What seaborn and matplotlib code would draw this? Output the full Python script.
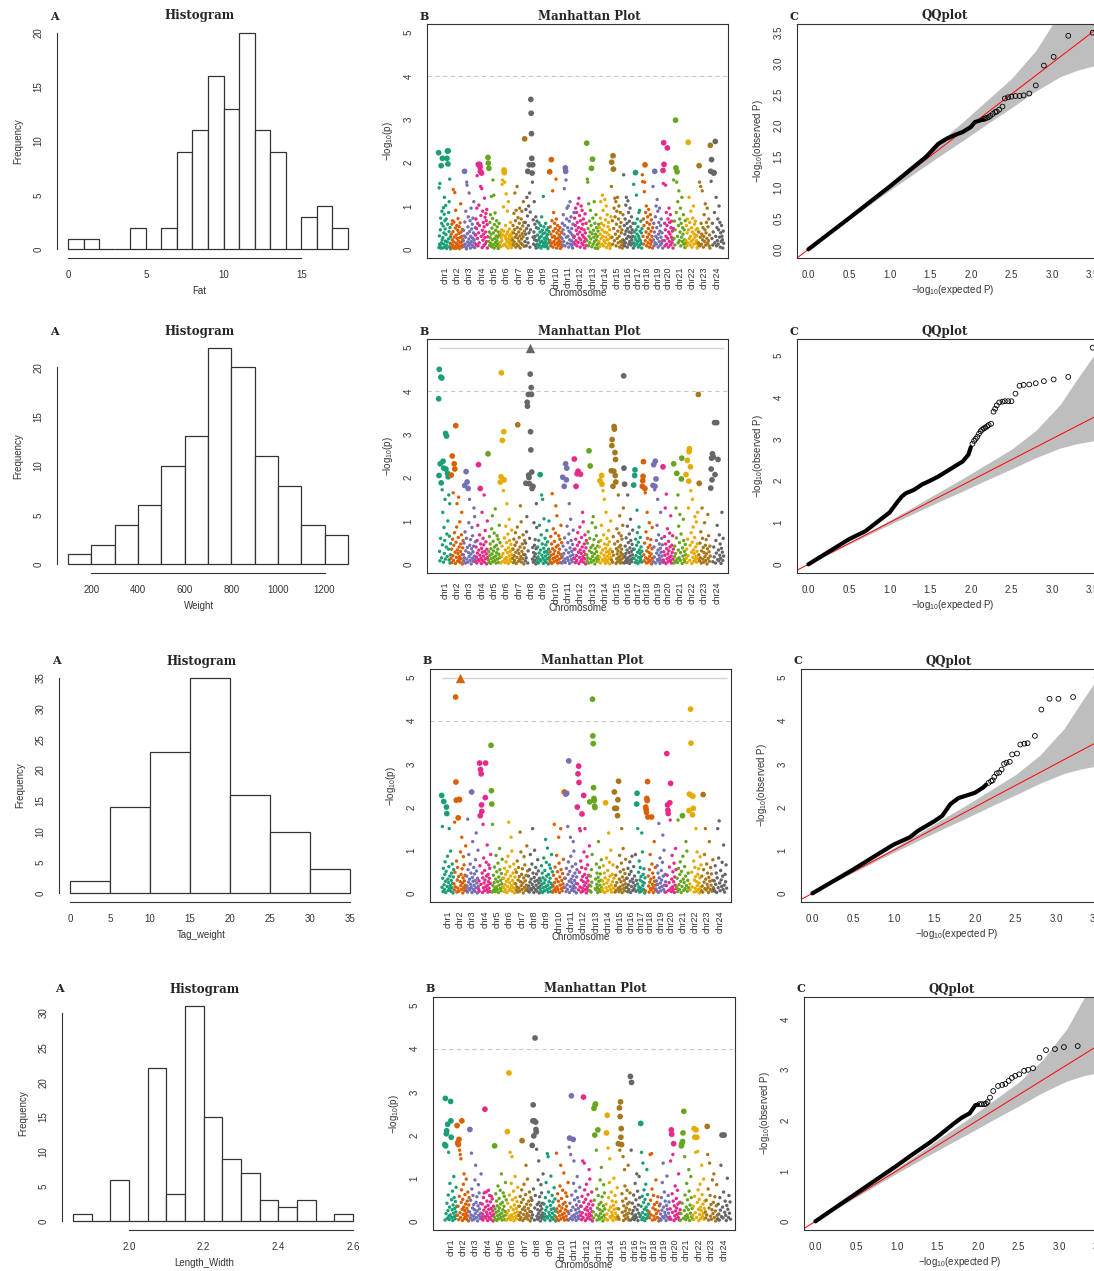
import numpy as np
import pandas as pd
import seaborn as sns
import matplotlib.pyplot as plt

sns.set_style("white")
plt.rcParams['font.family'] = ['Liberation Sans', 'DejaVu Sans']
plt.rcParams['mathtext.default'] = 'regular'

W, H = 1094, 1271
INK = '#333333'
SERIF = ['DejaVu Serif']

# ---------------- histogram data (bin edges + bar heights) ----------------
fat_edges = list(range(0, 19))
fat_counts = [1, 1, 0, 0, 2, 0, 2, 9, 11, 16, 13, 20, 11, 9, 0, 3, 4, 2]
weight_edges = list(range(100, 1301, 100))
weight_counts = [1, 2, 4, 6, 10, 13, 22, 20, 11, 8, 4, 3]
tag_edges = list(range(0, 36, 5))
tag_counts = [2, 14, 23, 35, 16, 10, 4]
lw_edges = [1.85, 1.90, 1.95, 2.00, 2.05, 2.10, 2.15, 2.20, 2.25, 2.30, 2.35, 2.40, 2.45, 2.50, 2.55, 2.60]
lw_counts = [1, 0, 6, 0, 22, 4, 31, 15, 9, 7, 3, 2, 3, 0, 1]

# ---------------- manhattan data: -log10(p) x100, one string per chromosome ----------------
chrom_names = ['chr%d' % i for i in range(1, 25)]
chrom_len = [37] * 15 + [30, 26, 32, 30, 32, 37, 37, 37, 40]

fat_logp = [
    "223 4 142 31 12 152 8 45 72 3 193 15 60 88 22 210 3 27 54 96 12 38 81 120 5 66 47 19 101 34 70 9 2 210 17 227 58 197 227 24 85 41 110 6 162 50 14 29 1",
    "12 35 4 58 22 66 9 41 138 17 63 28 2 131 6 49 90 14 33 3 55 25 11 44 71 19 8 37 52 2 27 61 15 105 40 7 30 18 5 46 23 10",
    "20 44 7 31 180 63 12 28 88 5 1 155 148 36 17 52 75 9 24 130 41 14 66 3 30 95 18 47 10 58 26 72 6 38 110 22 15 4 34 50",
    "33 70 11 48 95 170 25 60 8 196 38 102 15 55 196 190 180 145 78 30 176 140 4 44 88 21 62 35 9 52 118 27 74 13 40 83 66 18 92 57 3 29",
    "212 199 18 187 40 9 62 27 80 14 35 122 6 49 22 71 160 11 38 125 3 57 25 84 16 44 8 31 66 20 52 12 28 2 40 5 60 33 15 7",
    "15 38 6 27 45 20 150 160 33 9 98 42 183 177 155 12 30 55 24 128 7 36 18 88 41 3 110 25 14 32 47 10 22 62 19 35 4 28 13 40",
    "22 55 10 38 83 17 46 130 28 66 5 90 34 12 145 50 26 73 8 40 19 60 95 31 3 47 14 70 24 88 36 11 54 29 110 62 7 42 255",
    "18 62 35 92 8 48 120 25 77 180 15 55 100 38 195 130 5 86 45 346 314 267 210 176 155 195 28 68 12 40 110 22 58 30 9 75 3 50 20 65",
    "12 33 5 48 22 61 9 27 40 16 55 3 30 75 19 44 8 36 122 14 52 25 6 38 18 60 11 29 45 7 24 34 2 50 15 41 20",
    "179 20 52 8 35 207 14 66 28 135 5 42 85 18 30 60 11 48 24 162 70 3 38 15 55 26 9 44 20 33 12 50 2 28 17 39 6",
    "25 60 10 45 80 18 35 140 55 8 188 180 160 28 70 95 14 50 30 100 5 42 65 22 110 12 38 75 20 48 9 33 3 58 16 27 85",
    "30 72 12 55 95 20 44 85 8 62 35 105 16 50 118 26 78 40 5 66 22 100 48 14 90 33 58 10 70 28 45 18 3 82 38 24 60 9",
    "245 20 162 155 48 8 105 30 65 15 40 90 24 55 187 6 36 208 72 12 44 28 110 18 60 3 35 80 22 50 10 30 2 42 14 58",
    "18 50 6 35 72 110 25 60 12 45 125 30 90 8 55 20 40 115 15 68 28 100 4 38 80 22 52 10 62 33 14 45 2 26 9 75",
    "145 201 28 66 12 216 185 48 95 20 118 75 35 110 8 58 88 25 120 42 15 70 100 30 5 52 85 18 62 38 10 45 3 22 80 14",
    "172 20 55 8 35 70 15 102 42 120 25 60 5 48 112 30 85 12 40 65 18 95 28 52 10 38 75 22 45 14 30 60 3",
    "150 15 40 8 28 60 177 22 45 125 12 35 70 18 52 5 30 85 25 90 10 42 20 65 14 38 3 48",
    "172 156 30 70 12 55 133 155 195 20 85 40 100 8 62 28 75 15 48 92 35 5 58 22 80 12 42 68 18 30 3 50",
    "145 22 60 8 40 180 15 75 30 100 12 50 115 25 88 5 35 62 18 95 42 10 55 28 70 14 38 20 3",
    "182 152 246 196 20 60 8 45 148 30 85 12 55 234 25 70 5 40 95 18 62 35 80 10 50 28 65 15 42 22 3 48",
    "160 25 65 10 45 298 188 85 155 179 30 110 15 55 135 20 70 40 95 8 60 28 120 18 50 35 80 12 45 22 4 66 14",
    "20 55 8 38 70 15 247 45 120 25 62 10 30 88 18 50 5 40 72 22 100 12 35 58 28 65 14 45 20 32 3 48 9",
    "15 40 193 155 8 28 145 60 12 35 135 22 50 5 30 80 18 45 105 10 38 62 25 95 14 52 20 70 8 33 3 240",
    "180 157 207 25 60 10 40 176 177 85 15 249 30 120 8 50 20 70 12 45 100 28 62 5 38 18 55 30 22 3 42 14",
]

weight_logp = [
    "382 205 450 30 8 232 60 432 188 15 430 172 45 120 238 5 222 85 25 55 150 12 302 220 40 296 70 18 210 100 202 35 160 10 65 140 3 22 48",
    "14 206 35 4 250 58 20 165 9 44 232 73 220 28 2 320 51 16 86 140 33 7 25 62 155 11 40 18 98 5 30 47 13 68 120 23 1 38 55",
    "22 8 49 15 182 75 3 31 214 60 12 190 39 5 175 27 96 18 150 44 9 57 24 1 36 85 14 66 29 7 42 130 19 110 11 52",
    "6 40 17 3 55 26 90 11 230 33 8 68 21 175 47 14 2 37 120 28 9 60 19 45 160 5 30 78 13 52 24 1 35 100 16",
    "255 10 29 5 64 21 47 2 36 13 82 24 112 6 53 31 16 72 40 9 128 19 3 44 27 66 12 35 58 4 23 90 15 50",
    "190 3 202 442 18 42 286 7 25 170 306 195 61 12 4 33 88 15 50 140 9 27 70 2 38 19 104 55 11 30 6 46 22 79 14 35",
    "14 35 4 58 20 9 44 73 28 2 51 16 86 322 33 7 25 62 11 40 135 18 98 5 30 47 13 68 23 1 38 55",
    "22 8 49 187 15 75 110 374 365 3 31 392 206 200 186 60 500 439 306 264 408 392 213 175 12 39 180 5 27 96 18 44 9 57 24 1 36 140 85 14",
    "6 40 17 3 55 26 90 11 207 33 8 68 160 21 47 150 14 2 37 105 28 9 60 19 45 5 30 78 13 52 24 1 35 100 16",
    "10 29 5 64 21 47 2 163 36 13 82 24 6 53 31 16 72 135 40 9 112 19 3 44 27 66 12 35 58 4 23 90 15 50",
    "3 18 201 42 7 25 180 61 12 4 232 33 195 222 88 15 50 9 27 70 140 2 38 19 104 55 11 30 6 46 22 79 14 35",
    "243 14 35 4 58 180 20 9 209 44 73 215 28 2 51 16 86 33 208 7 25 62 11 40 120 18 98 5 30 47 13 68 23 1 38 55",
    "22 8 49 15 75 3 262 31 60 227 12 39 5 27 96 18 44 110 9 57 24 1 36 85 14 66 29 7 42 19 11 52",
    "6 40 17 193 3 55 26 90 205 185 11 33 170 8 68 21 150 47 14 2 37 120 28 9 60 19 45 5 30 78 13 52 24 1 35 100 16",
    "216 10 274 288 29 5 180 64 21 215 318 312 47 258 205 242 190 2 36 13 82 24 6 53 31 160 16 72 40 9 112 19 3 44 27 66 12 35 58 4 23 90 15 130",
    "435 222 3 185 18 42 7 25 61 12 4 33 88 160 15 50 9 27 70 2 38 19 104 55 11 30 6 46 22 79 14 35",
    "183 14 35 205 218 4 58 20 9 44 125 73 28 2 51 16 86 33 7 25 62 11 40 18 5 30",
    "180 193 203 237 22 8 49 175 165 15 75 3 31 120 60 12 39 5 27 96 18 44 9 57 24 1 36 85 14",
    "182 6 230 40 17 172 180 238 3 197 55 26 90 11 150 33 8 68 21 47 14 2 37 120 28 9 60 19 45 5",
    "225 10 29 5 64 21 130 47 2 162 36 13 82 24 6 53 31 16 72 40 9 112 19 3 44 27 66 12 35",
    "232 3 18 42 7 25 130 61 210 12 4 160 33 88 15 50 115 9 27 70 197 245 2 38 19 104 55 11 30 6 46 22",
    "207 14 35 4 240 58 20 130 192 260 267 9 44 225 170 73 28 2 51 150 16 86 33 7 25 62 110 11 40 18 98 5 30 47 120 13",
    "392 22 187 8 49 15 75 3 31 130 60 12 39 5 27 96 18 44 9 57 24 1 36 115 14 66 29 7 42 19",
    "176 220 245 195 255 6 248 40 17 327 207 3 55 26 327 90 11 242 33 8 68 21 47 14 2 37 120 28 9 60 19",
]

tag_logp = [
    "227 14 155 35 4 58 213 20 9 44 73 28 2 51 200 185 16 86 33 7 25 62 150 11 40 18 98 5 30 47 13 68 23 1 38 55",
    "22 8 165 49 15 455 258 216 75 3 31 60 12 175 39 5 218 217 500 27 96 18 44 9 130 57 24 1 36 85 14 66 29 7 42 19 110 11",
    "6 40 17 3 172 55 26 90 11 33 8 68 21 47 14 235 2 37 120 28 9 60 19 45 5 30 78 13 140 52 24 1 35 100 16",
    "10 29 5 302 64 180 287 21 277 205 190 47 2 36 160 13 82 24 6 53 31 222 302 16 72 40 9 112 19 3 44 27 66 12 35 58 4 23 90",
    "343 238 207 3 160 18 42 7 25 61 12 4 33 88 15 50 9 27 70 2 38 19 104 55 11 30 6 46 22 79 14 35",
    "14 35 4 58 20 9 44 73 28 2 51 16 86 33 165 7 25 62 11 40 130 18 98 5 30 47 13 68 23 1 38 55",
    "22 8 49 15 75 3 31 60 12 39 5 142 27 96 18 44 9 57 24 1 36 85 14 66 29 7 42 19 110 11 52",
    "6 40 17 3 55 26 90 11 33 8 68 21 150 47 14 2 37 100 28 9 60 19 45 5 30 78 13 52 24 1 35 16",
    "10 29 5 64 21 47 2 36 13 82 24 6 53 31 125 16 72 40 9 105 19 3 44 27 66 12 35 58 4 23 90 15 50",
    "3 18 42 7 160 25 61 12 4 33 88 15 50 9 27 130 70 2 38 19 150 55 11 30 6 46 22 79 14 235 35",
    "14 35 230 4 58 232 20 9 155 44 73 307 28 2 51 16 130 86 33 7 25 62 11 40 120 18 98 5 30 47 13 68 23 1 38 55",
    "200 22 277 8 295 257 49 150 15 145 75 3 31 60 184 12 39 5 27 227 96 18 44 150 9 57 24 1 36 85 14 66 29 7 42 19 110",
    "212 6 40 17 3 55 26 90 450 365 347 245 220 215 202 199 11 33 8 68 21 47 14 2 37 120 28 9 60 19 45 5 30 78 13",
    "10 29 5 64 21 47 2 36 210 13 82 24 6 53 31 140 16 72 40 9 100 19 3 44 27 66 12 35",
    "235 197 3 18 42 7 197 25 61 180 217 12 260 4 33 88 15 50 9 27 70 150 2 38 19 104 55 11 30 6 46 22 79 14 35",
    "14 35 4 58 20 9 44 73 28 2 51 16 86 33 7 25 62 11 40 18 90 5 30",
    "207 232 22 150 8 49 15 75 3 31 60 12 39 5 140 27 96 18 44 9 57 24 1 36",
    "6 200 195 188 220 215 259 177 40 17 3 55 26 90 11 33 8 177 68 21 47 14 2 37 120 28 9 60 19",
    "10 29 5 64 21 47 2 162 36 13 82 24 6 53 31 16 72 135 40 9 100 19 3 44 27",
    "3 18 324 42 205 193 185 7 25 61 210 170 255 12 4 33 88 15 50 9 27 70 2 38 19 104 55 11",
    "14 35 4 170 58 20 9 44 73 28 2 51 16 180 86 33 7 25 62 11 40 120 18 98 5 30 47 13",
    "192 230 22 8 427 348 227 49 15 182 225 197 75 3 31 60 12 39 150 5 27 96 18 44 9 57 24 1 36 85 14 66",
    "6 40 17 3 229 55 26 90 11 150 33 8 68 21 47 14 2 37 120 28 9 60 19 45 5 30 78 13",
    "10 29 5 64 21 47 2 36 150 13 82 168 24 6 53 31 16 72 40 9 112 19 3 44 27 66 12",
]

lw_logp = [
    "178 3 285 175 18 203 210 42 7 225 25 61 160 12 4 33 88 15 278 233 195 50 9 27 70 2 38 19 104 55 11 30 6 46 22 79 14 35",
    "222 14 182 35 178 4 190 58 165 20 155 9 145 44 73 233 28 2 51 16 86 33 110 7 25 62 11 40 18 98 5 30 47 13 68 23 1 38 55",
    "22 213 8 49 15 158 75 3 31 60 12 39 5 27 96 18 130 44 9 57 24 1 36 85 14 66 29 7 42 19 110 11",
    "6 40 17 3 55 26 66 11 260 33 8 68 21 47 14 2 37 72 28 9 60 19 45 5 30 58 13 52 24 1 35 16",
    "10 175 29 5 64 21 47 2 36 13 82 24 6 53 31 16 72 40 9 110 19 3 44 27 66 12 35 58 4 23 90 15 50",
    "3 18 208 42 7 25 344 61 12 160 4 33 88 15 150 50 9 27 70 2 38 19 104 55 11 30 6 46 22 79 14 35",
    "14 35 4 58 20 9 44 73 187 28 2 51 16 86 33 7 25 62 130 11 40 18 98 5 30 47 13 68 23 1 38 55",
    "22 8 49 176 15 233 270 75 198 233 3 31 425 60 230 213 207 167 12 39 5 27 96 18 140 44 9 57 24 1 36 85 14 66 29 7 42 19 110 11",
    "6 40 17 3 55 26 90 11 33 157 8 150 68 21 47 14 2 37 105 28 9 60 19 45 5 30 78 13 52 24 1",
    "10 158 29 5 64 21 47 2 36 13 82 24 130 6 53 31 16 72 40 9 112 19 3 44 27 66 12 35 58 4 23 90",
    "3 18 172 193 42 7 155 25 291 61 12 4 33 190 88 140 15 50 9 27 70 2 38 19 104 55 11 30 6 46 22 79 14 35",
    "14 35 4 58 20 140 9 288 44 135 73 28 2 51 16 86 33 7 25 62 11 40 120 18 98 5 30 47 13 68 23 1 38",
    "22 8 262 49 200 270 272 15 165 75 3 31 212 60 12 39 5 27 96 18 44 125 9 57 24 1 36 85 14 66 29 7",
    "6 40 205 17 246 3 170 55 26 90 145 11 33 8 68 21 47 14 2 37 100 28 9 60 19 45 5 30 78 13",
    "10 180 29 5 263 165 243 277 195 215 178 64 21 47 150 2 36 13 120 82 24 6 53 31 16 72 40 9 130 19 3 44 27 66",
    "336 3 165 322 18 42 7 25 61 12 4 33 88 15 50 9 110 27 70 2 38 19 104 55 11",
    "14 227 35 160 4 58 20 135 9 44 73 28 2 51 16 86 33 7 120 25 62 11 40 18",
    "22 8 155 49 15 157 75 3 31 60 12 39 5 27 96 18 44 9 57 24 1 36",
    "6 40 17 3 55 26 90 11 135 33 8 68 21 47 14 2 37 105 28 9 60 19 45 5",
    "10 29 140 5 212 202 64 21 155 47 180 2 36 13 82 24 6 53 31 16 72 40 9 110 19 3 44 27",
    "3 18 175 180 42 185 205 7 255 25 150 61 12 4 33 88 15 50 9 27 120 70 2 38 19 104 55 11 30 6",
    "14 35 4 215 58 195 20 160 212 9 195 44 162 73 28 2 51 16 86 33 7 25 130 62 11 40 18 98 5 30 47",
    "22 8 49 15 220 155 75 3 31 135 60 12 39 5 27 96 18 44 110 9 57 24 1 36 85 14",
    "6 40 17 3 55 26 130 11 200 33 8 68 200 21 47 14 2 37 100 28 9 60 19 45 5",
]

# ---------------- QQ data (expected vs observed -log10 P) ----------------
qq_band_exp = [0, 0.5, 1.0, 1.3, 1.6, 1.9, 2.2, 2.5, 2.8, 3.1, 3.3, 3.58]
qq_band_lo = [0, 0.48, 0.95, 1.22, 1.49, 1.75, 2.02, 2.28, 2.55, 2.78, 2.88, 2.98]
qq_band_hi = [0, 0.52, 1.05, 1.38, 1.72, 2.05, 2.40, 2.75, 3.20, 3.82, 4.40, 5.18]

fat_qq_exp = [0, 0.5, 1.0, 1.3, 1.45, 1.6, 1.7, 1.8, 1.9, 2.0, 2.05, 2.15]
fat_qq_obs = [0, 0.5, 1.01, 1.33, 1.49, 1.70, 1.78, 1.84, 1.89, 1.97, 2.05, 2.09]
fat_top_exp = [3.50, 3.20, 3.02, 2.90, 2.80, 2.72, 2.65, 2.60, 2.55, 2.50, 2.46, 2.42, 2.39, 2.35, 2.32, 2.30, 2.27, 2.24, 2.22, 2.20, 2.18, 2.16]
fat_top_obs = [3.49, 3.44, 3.10, 2.96, 2.64, 2.51, 2.48, 2.47, 2.47, 2.46, 2.45, 2.43, 2.30, 2.25, 2.22, 2.21, 2.18, 2.15, 2.13, 2.12, 2.11, 2.10]

weight_qq_exp = [0, 0.5, 0.7, 1.0, 1.1, 1.15, 1.2, 1.3, 1.4, 1.5, 1.6, 1.7, 1.8, 1.9, 1.97, 2.0]
weight_qq_obs = [0, 0.60, 0.79, 1.24, 1.50, 1.62, 1.70, 1.78, 1.91, 2.0, 2.10, 2.22, 2.34, 2.46, 2.62, 2.80]
weight_top_exp = [3.50, 3.20, 3.02, 2.90, 2.80, 2.72, 2.65, 2.60, 2.55, 2.50, 2.46, 2.42, 2.39, 2.35, 2.32, 2.30, 2.28, 2.25, 2.22, 2.20, 2.18, 2.16, 2.14, 2.12, 2.10, 2.08, 2.06, 2.04, 2.02]
weight_top_obs = [5.18, 4.48, 4.42, 4.38, 4.33, 4.30, 4.29, 4.27, 4.08, 3.90, 3.90, 3.90, 3.89, 3.87, 3.80, 3.72, 3.65, 3.36, 3.33, 3.30, 3.27, 3.25, 3.22, 3.18, 3.12, 3.05, 3.00, 2.95, 2.88]

tag_qq_exp = [0, 0.5, 0.8, 1.0, 1.2, 1.3, 1.5, 1.6, 1.7, 1.8, 1.9, 2.0, 2.1, 2.14]
tag_qq_obs = [0, 0.55, 0.90, 1.13, 1.30, 1.45, 1.67, 1.80, 2.07, 2.21, 2.27, 2.33, 2.45, 2.52]
tag_top_exp = [3.50, 3.21, 3.03, 2.92, 2.82, 2.74, 2.65, 2.61, 2.56, 2.52, 2.46, 2.43, 2.39, 2.36, 2.33, 2.30, 2.27, 2.24, 2.22, 2.20, 2.17]
tag_top_obs = [5.00, 4.55, 4.51, 4.51, 4.26, 3.65, 3.48, 3.47, 3.45, 3.24, 3.22, 3.05, 3.03, 3.00, 2.87, 2.80, 2.78, 2.70, 2.62, 2.60, 2.56]

lw_qq_exp = [0, 0.5, 1.0, 1.2, 1.4, 1.5, 1.7, 1.8, 1.9, 1.97, 2.0]
lw_qq_obs = [0, 0.55, 1.10, 1.33, 1.55, 1.67, 1.93, 2.05, 2.14, 2.30, 2.31]
lw_top_exp = [3.50, 3.23, 3.06, 2.95, 2.84, 2.76, 2.68, 2.62, 2.57, 2.51, 2.46, 2.42, 2.38, 2.34, 2.30, 2.25, 2.19, 2.15, 2.12, 2.10, 2.08, 2.05, 2.02]
lw_top_obs = [4.27, 3.47, 3.45, 3.41, 3.39, 3.24, 3.03, 3.00, 2.98, 2.91, 2.88, 2.84, 2.78, 2.72, 2.70, 2.68, 2.58, 2.45, 2.36, 2.33, 2.32, 2.32, 2.32]

chrom_colors = [sns.color_palette('Dark2', 8)[i % 8] for i in range(24)]

fig = plt.figure(figsize=(W / 100, H / 100), dpi=100)


def px_axes(x0, y0, x1, y1):
    return fig.add_axes([x0 / W, 1 - y1 / H, (x1 - x0) / W, (y1 - y0) / H])


def put(x, y, s, **kw):
    fig.text(x / W, 1 - y / H, s, **kw)


def finish_ticks(ax):
    ax.tick_params(direction='out', length=4, width=0.8, colors=INK, labelsize=7)
    ax.tick_params(axis='y', pad=5.5)
    ax.tick_params(axis='x', pad=4.5)
    for lbl in ax.get_yticklabels():
        lbl.set_rotation(90)
        lbl.set_va('center')
    for sp in ax.spines.values():
        sp.set_color(INK)
        sp.set_linewidth(0.8)
    ax.set_xlabel('')
    ax.set_ylabel('')


def header(letter, title, left, top, tx):
    put(left - 3, top - 8, letter, family=SERIF, weight='bold', fontsize=8, ha='center', va='center')
    put(tx, top - 8, title, family=SERIF, weight='bold', fontsize=8.5, ha='center', va='center')


def draw_hist(ax, edges, counts, xticks, xticklabels, yticks):
    edges = [float(e) for e in edges]
    mids = [(a + b) / 2 for a, b in zip(edges[:-1], edges[1:])]
    hdf = pd.DataFrame({'mid': mids, 'count': counts})
    sns.histplot(data=hdf, x='mid', weights='count', bins=edges, ax=ax, color='white',
                 edgecolor=INK, linewidth=0.9, alpha=1)
    span = edges[-1] - edges[0]
    top = max(counts)
    ax.set_xlim(edges[0] - 0.04 * span, edges[-1] + 0.04 * span)
    ax.set_ylim(-0.04 * top, 1.04 * top)
    ax.set_xticks(xticks, xticklabels)
    ax.set_yticks(yticks, [str(v) for v in yticks])
    sns.despine(ax=ax)
    ax.spines['left'].set_bounds(yticks[0], yticks[-1])
    ax.spines['bottom'].set_bounds(xticks[0], xticks[-1])
    finish_ticks(ax)


def draw_manhattan(ax, chrom_strings):
    rows, centers, start = [], [], 0
    for name, length, s in zip(chrom_names, chrom_len, chrom_strings):
        vals = [int(v) / 100 for v in s.split()]
        for j, v in enumerate(vals):
            rows.append((name, start + length * (j + 0.5) / len(vals), v))
        centers.append(start + length / 2)
        start += length
    df = pd.DataFrame(rows, columns=['chrom', 'pos', 'logp'])

    ax.axhline(4, color='#C8C8C8', lw=0.8, ls=(0, (4, 3)), zorder=0)
    if df['logp'].max() >= 5:
        ax.hlines(5, 0, start, color='#D3D3D3', lw=1.0, zorder=0)

    groups = [(df['logp'] < 1.75, 6, 'o'),
              ((df['logp'] >= 1.75) & (df['logp'] < 5), 17, 'o'),
              (df['logp'] >= 5, 45, '^')]
    for mask, size, marker in groups:
        if mask.sum() == 0:
            continue
        sns.scatterplot(data=df[mask], x='pos', y='logp', hue='chrom', hue_order=chrom_names,
                        palette=chrom_colors, s=size, marker=marker, linewidth=0,
                        legend=False, ax=ax, zorder=3)
    ax.set_xlim(-34.5, start + 12.5)
    ax.set_ylim(-0.2, 5.2)
    ax.set_xticks(centers, chrom_names)
    ax.set_yticks(range(6), [str(v) for v in range(6)])
    finish_ticks(ax)
    ax.tick_params(axis='x', labelrotation=90, pad=2, labelsize=6.5)


def draw_qq(ax, dense_e, dense_o, top_e, top_o, yticks, ylabels):
    ax.fill_between(qq_band_exp, qq_band_lo, qq_band_hi, color='#BEBEBE', lw=0, zorder=1)
    ax.axline((0, 0), slope=1, color='red', lw=0.7, zorder=2)
    sns.lineplot(x=dense_e, y=dense_o, color='black', lw=3, estimator=None, ax=ax, zorder=3)
    sns.scatterplot(x=top_e, y=top_o, marker='o', s=12, facecolors='none', edgecolor='black',
                    linewidth=0.6, ax=ax, zorder=4)
    top = max(top_o)
    ax.set_xlim(-0.14, 3.64)
    ax.set_ylim(-0.04 * top, 1.04 * top)
    xt = [0, 0.5, 1.0, 1.5, 2.0, 2.5, 3.0, 3.5]
    ax.set_xticks(xt, ['%.1f' % v for v in xt])
    ax.set_yticks(yticks, ylabels)
    finish_ticks(ax)


rows = [
    dict(top=24, bottom=258, hx=(57, 359), mx=(427, 728), qx=(797, 1104)),
    dict(top=339, bottom=573, hx=(57, 359), mx=(427, 728), qx=(797, 1104)),
    dict(top=669, bottom=902, hx=(59, 361), mx=(430, 731), qx=(801, 1108)),
    dict(top=997, bottom=1230, hx=(62, 364), mx=(433, 735), qx=(804, 1111)),
]

hist_specs = [
    (fat_edges, fat_counts, [0, 5, 10, 15], ['0', '5', '10', '15'], [0, 5, 10, 15, 20], 'Fat'),
    (weight_edges, weight_counts, [200, 400, 600, 800, 1000, 1200],
     ['200', '400', '600', '800', '1000', '1200'], [0, 5, 10, 15, 20], 'Weight'),
    (tag_edges, tag_counts, list(range(0, 36, 5)), [str(v) for v in range(0, 36, 5)],
     [0, 5, 10, 15, 20, 25, 30, 35], 'Tag_weight'),
    (lw_edges, lw_counts, [2.0, 2.2, 2.4, 2.6], ['2.0', '2.2', '2.4', '2.6'],
     [0, 5, 10, 15, 20, 25, 30], 'Length_Width'),
]
manhattan_specs = [fat_logp, weight_logp, tag_logp, lw_logp]
qq_specs = [
    (fat_qq_exp, fat_qq_obs, fat_top_exp, fat_top_obs,
     [0, 0.5, 1.0, 1.5, 2.0, 2.5, 3.0, 3.5], ['0.0', '0.5', '1.0', '1.5', '2.0', '2.5', '3.0', '3.5']),
    (weight_qq_exp, weight_qq_obs, weight_top_exp, weight_top_obs,
     list(range(6)), [str(v) for v in range(6)]),
    (tag_qq_exp, tag_qq_obs, tag_top_exp, tag_top_obs,
     list(range(6)), [str(v) for v in range(6)]),
    (lw_qq_exp, lw_qq_obs, lw_top_exp, lw_top_obs,
     list(range(5)), [str(v) for v in range(5)]),
]

lab = dict(fontsize=7, color=INK, ha='center', va='center')

for r, hs, ms, qs in zip(rows, hist_specs, manhattan_specs, qq_specs):
    top, bottom = r['top'], r['bottom']
    mid = (top + bottom) / 2

    x0, x1 = r['hx']
    ax = px_axes(x0, top, x1, bottom)
    draw_hist(ax, *hs[:5])
    header('A', 'Histogram', x0, top, x0 + 143)
    put(x0 + 142, bottom + 33, hs[5], **lab)
    put(x0 - 39, mid, 'Frequency', rotation=90, **lab)

    x0, x1 = r['mx']
    ax = px_axes(x0, top, x1, bottom)
    draw_manhattan(ax, ms)
    header('B', 'Manhattan Plot', x0, top, x0 + 162)
    put((x0 + x1) / 2, bottom + 35, 'Chromosome', **lab)
    put(x0 - 39, mid, '$-$log$_{10}$(p)', rotation=90, **lab)

    x0, x1 = r['qx']
    ax = px_axes(x0, top, x1, bottom)
    draw_qq(ax, *qs)
    header('C', 'QQplot', x0, top, x0 + 148)
    put(x0 + 156, bottom + 32, '$-$log$_{10}$(expected P)', **lab)
    put(x0 - 39, mid, '$-$log$_{10}$(observed P)', rotation=90, **lab)

fig.savefig('out.png', dpi=100)
